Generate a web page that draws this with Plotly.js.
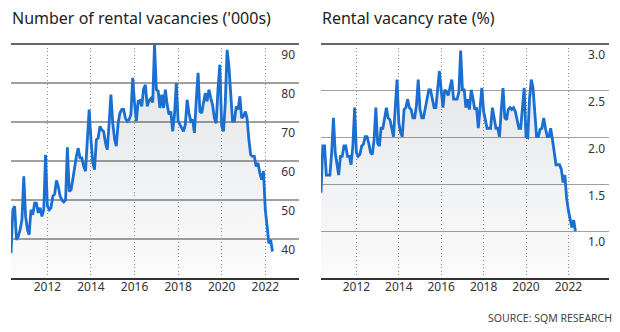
<!DOCTYPE html>
<html><head><meta charset="utf-8">
<script src="https://cdn.plot.ly/plotly-3.0.1.min.js"></script>
<style>html,body{margin:0;padding:0;background:#fff}#chart{width:620px;height:332px}</style>
</head><body><div id="chart"></div>
<script>
// Monthly data, May 2010 - May 2022
const firstMonth = [2010, 5];
const vacancies = [
36.4,47.5,48.4,39.8,40.7,42.4,45.0,56.1,45.8,42.4,41.1,47.5,46.2,49.2,49.2,46.7,48.0,45.8,47.5,61.6,
48.5,47.5,48.0,51.0,51.5,55.0,53.5,51.0,50.0,49.5,50.0,63.5,52.2,52.6,55.2,58.6,61.2,63.3,60.8,60.8,
58.6,57.4,66.3,73.2,65.5,59.5,57.8,65.5,65.9,68.9,68.0,67.6,64.6,62.9,69.7,77.0,69.7,65.5,63.8,69.7,
72.3,73.2,73.2,71.0,70.2,70.6,71.9,81.3,74.9,70.2,75.3,75.5,74.0,78.5,79.5,74.0,75.5,76.0,75.0,90.0,
78.3,77.9,73.6,77.0,73.6,78.3,74.4,71.9,72.7,67.6,71.9,80.0,70.2,69.3,68.5,67.6,69.3,75.7,72.3,70.2,
70.6,67.2,75.7,82.6,72.7,72.3,74.9,77.4,75.3,78.3,76.2,74.4,71.0,69.7,78.7,84.7,68.9,67.6,74.9,88.5,
84.3,77.0,70.2,70.2,74.0,73.2,76.6,71.0,71.5,72.7,71.0,65.5,61.6,61.2,61.2,58.6,59.5,56.9,55.2,57.4,
47.5,43.2,38.9,39.8,36.8
];
const vacancyRate = [
1.41,1.91,1.91,1.60,1.60,1.60,1.84,2.21,1.84,1.69,1.60,1.80,1.80,1.91,1.91,1.80,1.80,1.71,1.91,2.32,
1.84,1.80,1.82,1.91,1.93,2.01,2.01,1.94,1.84,1.82,1.98,2.32,1.94,1.91,2.10,2.10,2.19,2.32,2.21,2.19,
2.10,2.01,2.33,2.62,2.16,2.05,2.01,2.30,2.32,2.41,2.32,2.30,2.21,2.21,2.35,2.62,2.30,2.21,2.21,2.32,
2.41,2.51,2.51,2.41,2.32,2.32,2.51,2.71,2.51,2.32,2.51,2.49,2.45,2.55,2.62,2.41,2.41,2.41,2.49,2.93,
2.51,2.51,2.32,2.41,2.30,2.51,2.42,2.30,2.32,2.10,2.32,2.53,2.28,2.19,2.10,2.10,2.10,2.32,2.19,2.10,
2.10,2.01,2.30,2.53,2.21,2.19,2.30,2.32,2.30,2.32,2.28,2.19,2.10,2.10,2.30,2.53,2.01,2.00,2.41,2.62,
2.53,2.30,2.01,2.01,2.09,2.10,2.21,2.10,2.01,2.01,2.10,1.98,1.84,1.71,1.71,1.71,1.66,1.52,1.60,1.35,
1.22,1.10,1.04,1.12,1.00
];
const yearTicks = ['2012-01-01','2014-01-01','2016-01-01','2018-01-01','2020-01-01','2022-01-01'];
const yearLabels = ['2012','2014','2016','2018','2020','2022'];
const vacancyTicks = [40,50,60,70,80,90];
const rateTicks = [1.0,1.5,2.0,2.5,3.0];

function monthSeq(first, n){
  const out=[]; let y=first[0], m=first[1];
  for(let i=0;i<n;i++){ out.push(y+'-'+String(m).padStart(2,'0')+'-01'); m++; if(m>12){m=1;y++;} }
  return out;
}
const months = monthSeq(firstMonth, vacancies.length);

const FONT = 'Noto Sans, sans-serif';
const LINE = '#1a6fd1';
const fillScale = [[0,'rgba(30,40,60,0.015)'],[1,'rgba(30,40,60,0.12)']];

const traces = [
  {x: months, y: vacancies, xaxis:'x', yaxis:'y', type:'scatter', mode:'lines',
   line:{color:LINE, width:2.8}, fill:'tozeroy',
   fillgradient:{type:'vertical', start:30, stop:85, colorscale:fillScale},
   hoverinfo:'skip'},
  {x: months, y: vacancyRate, xaxis:'x2', yaxis:'y2', type:'scatter', mode:'lines',
   line:{color:LINE, width:2.8}, fill:'tozeroy',
   fillgradient:{type:'vertical', start:0.5, stop:2.8, colorscale:fillScale},
   hoverinfo:'skip'}
];

function xAxis(domain, range, anchor){
  return {domain, range, anchor, type:'date', showgrid:true, gridcolor:'#8c8c8c', gridwidth:1,
    griddash:'1px,2.6px', tickvals:yearTicks, ticktext:yearLabels, ticks:'',
    ticklabelstandoff:-3,
    showline:true, linecolor:'#333', linewidth:1.6, zeroline:false,
    tickfont:{family:FONT, size:12, color:'#333'}, fixedrange:true};
}
function yAxis(range, tickvals, anchor, fmt){
  return {domain:[0,1], range, anchor, side:'right', ticklabelposition:'inside',
    ticklabelshift:11, ticklabelstandoff:1, ticklabeloverflow:'allow',
    showgrid:true, gridcolor:'#a0a0a0', gridwidth:1.2, zeroline:false, ticks:'',
    tickvals, tickformat:fmt, showline:false,
    tickfont:{family:FONT, size:12, color:'#333'}, fixedrange:true};
}

const layout = {
  width:620, height:332, margin:{l:0, r:0, t:44, b:54},
  paper_bgcolor:'#fff', plot_bgcolor:'rgba(0,0,0,0)', showlegend:false,
  font:{family:FONT, color:'#222'},
  xaxis: xAxis([11/620, 299/620], ['2010-05-01','2023-07-20'], 'y'),
  yaxis: yAxis([30, 90], vacancyTicks, 'x', 'd'),
  xaxis2: xAxis([321/620, 609/620], ['2010-05-01','2023-12-01'], 'y2'),
  yaxis2: yAxis([0.5, 3.0], rateTicks, 'x2', '.1f'),
  shapes: [
    {type:'line', xref:'x domain', yref:'y domain', x0:0, x1:1, y0:1, y1:1, line:{color:'#666', width:2}},
    {type:'line', xref:'x2 domain', yref:'y2 domain', x0:0, x1:1, y0:1, y1:1, line:{color:'#666', width:2}}
  ],
  annotations: [
    {text:"Number of rental vacancies ('000s)", xref:'paper', yref:'paper', x:10/620, y:1.112,
     xanchor:'left', yanchor:'middle', showarrow:false, font:{family:FONT, size:16, color:'#222'}},
    {text:"Rental vacancy rate (%)", xref:'paper', yref:'paper', x:320/620, y:1.112,
     xanchor:'left', yanchor:'middle', showarrow:false, font:{family:FONT, size:16, color:'#222'}},
    {text:"SOURCE: SQM RESEARCH", xref:'paper', yref:'paper', x:614/620, y:-0.171,
     xanchor:'right', yanchor:'middle', showarrow:false, font:{family:FONT, size:10.5, color:'#444'}}
  ]
};

Plotly.newPlot('chart', traces, layout, {displayModeBar:false, staticPlot:true});
</script>
</body></html>
